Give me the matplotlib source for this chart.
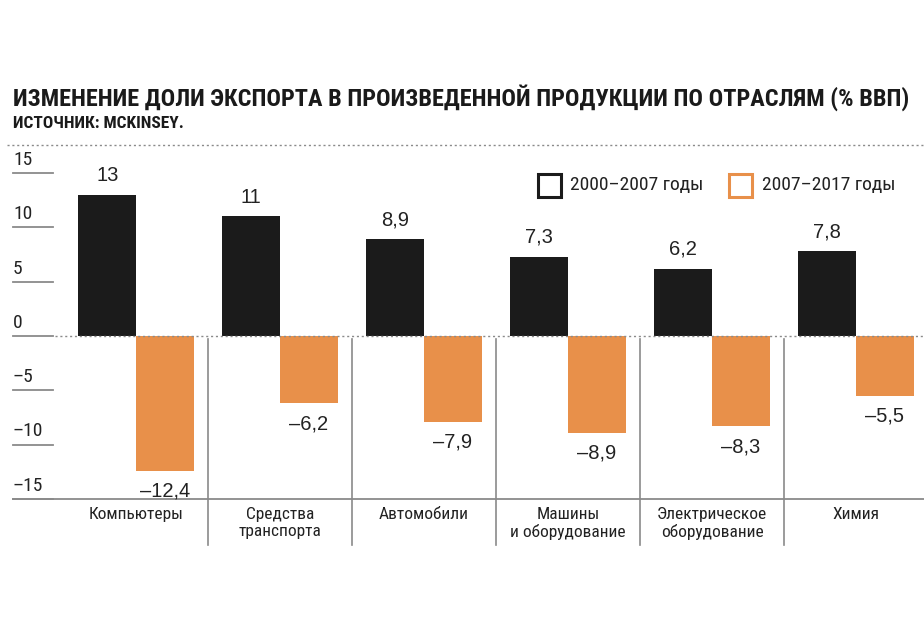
import matplotlib
matplotlib.use("Agg")
import matplotlib.pyplot as plt
from matplotlib.patches import Rectangle
from matplotlib.lines import Line2D
from matplotlib import font_manager

names = {f.name for f in font_manager.fontManager.ttflist}
COND = [n for n in ["Roboto Condensed", "Liberation Sans Narrow", "DejaVu Sans Condensed"] if n in names]
FAM_C = COND + ["Liberation Sans", "DejaVu Sans"]
FAM = ["Liberation Sans", "DejaVu Sans"]

categories = ["Компьютеры", "Средства\nтранспорта", "Автомобили",
              "Машины\nи оборудование", "Электрическое\nоборудование", "Химия"]
series1_label = "2000–2007 годы"
series2_label = "2007–2017 годы"
series1 = [13, 11, 8.9, 7.3, 6.2, 7.8]
series2 = [-12.4, -6.2, -7.9, -8.9, -8.3, -5.5]
yticks = [15, 10, 5, 0, -5, -10, -15]

BLACK = "#1b1b1b"
ORANGE = "#E8904A"
GRAY = "#8a8a8a"

W, H = 924, 630
fig = plt.figure(figsize=(W / 100, H / 100), dpi=100)

def fx(px):
    return px / W

def fy(py):
    return 1 - py / H

ax = fig.add_axes([fx(13), fy(499), fx(911), (499 - 173) / H])
xmin = -(136 - 13) / 144
xmax = xmin + 911 / 144
ax.set_xlim(xmin, xmax)
ax.set_ylim(-15, 15)
ax.axis("off")

n = len(categories)
xs = list(range(n))
bw = 0.4
ax.bar([x - bw / 2 for x in xs], series1, width=bw, color=BLACK, zorder=3)
ax.bar([x + bw / 2 for x in xs], series2, width=bw, color=ORANGE, zorder=3)

def fmt(v):
    s = f"{abs(v):g}".replace(".", ",")
    return ("–" if v < 0 else "") + s

for x, v in zip(xs, series1):
    ax.annotate(fmt(v), (x - bw / 2, v), xytext=(0, 7), textcoords="offset points",
                ha="center", va="bottom", fontsize=14.5, color="#222", family=FAM)
for x, v in zip(xs, series2):
    ax.annotate(fmt(v), (x + bw / 2, v), xytext=(0, -8), textcoords="offset points",
                ha="center", va="top", fontsize=14.5, color="#222", family=FAM)

tick_len = 40 / 911
ytr = ax.get_yaxis_transform()
for t in yticks:
    ax.plot([0, tick_len], [t, t], transform=ytr, color=GRAY, lw=1.3, clip_on=False, zorder=2)
    lab = ("–" if t < 0 else "") + str(abs(t))
    ax.annotate(lab, (0, t), xycoords=ytr, xytext=(0, 3), textcoords="offset points",
                ha="left", va="bottom", fontsize=14, color="#222", family=FAM_C)

ax.plot([42 / 911, 1], [0, 0], transform=ytr, color=GRAY, lw=1.0, ls=(0, (1.5, 2)),
        clip_on=False, zorder=4)
ax.plot([0, 1], [-15, -15], transform=ytr, color=GRAY, lw=1.3, clip_on=False, zorder=2)

for i in range(n - 1):
    ax.plot([i + 0.5, i + 0.5], [-0.3, -19.2], color=GRAY, lw=1.2, clip_on=False, zorder=2)

for x, c in zip(xs, categories):
    ax.annotate(c, (x, -15), xytext=(0, -6), textcoords="offset points",
                ha="center", va="top", fontsize=12.5, color="#222",
                family=FAM_C, linespacing=1.1)

fig.text(fx(13), fy(106), "ИЗМЕНЕНИЕ ДОЛИ ЭКСПОРТА В ПРОИЗВЕДЕННОЙ ПРОДУКЦИИ ПО ОТРАСЛЯМ (% ВВП)",
         ha="left", va="baseline", fontsize=17.5, fontweight="bold", color="#1a1a1a", family=FAM_C)
fig.text(fx(13), fy(128), "ИСТОЧНИК: MCKINSEY.",
         ha="left", va="baseline", fontsize=12.5, fontweight="bold", color="#1a1a1a", family=FAM_C)
fig.add_artist(Line2D([fx(7), 1], [fy(145), fy(145)], color=GRAY, lw=1.0, ls=(0, (1.5, 2))))

fig.add_artist(Rectangle((fx(538), fy(197)), 23 / W, 23 / H, fill=False, edgecolor=BLACK, lw=2.2))
fig.text(fx(570), fy(185), series1_label, ha="left", va="center", fontsize=14, color="#222", family=FAM_C)
fig.add_artist(Rectangle((fx(729), fy(197)), 23 / W, 23 / H, fill=False, edgecolor=ORANGE, lw=2.2))
fig.text(fx(762), fy(185), series2_label, ha="left", va="center", fontsize=14, color="#222", family=FAM_C)

fig.savefig("out.png", dpi=100, facecolor="white")
